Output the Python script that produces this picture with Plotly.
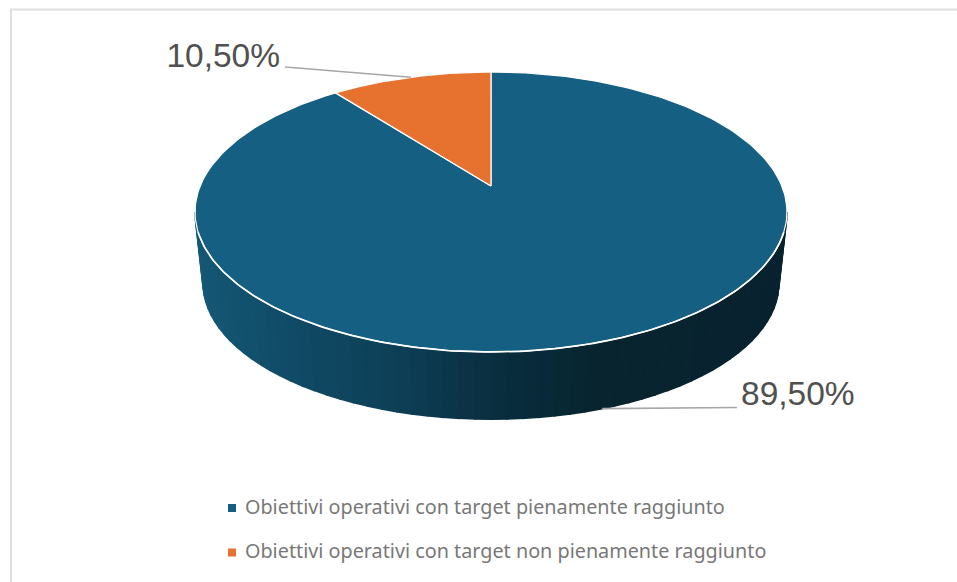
import numpy as np
import plotly.graph_objects as go

# --- data ---
categories = [
    "Obiettivi operativi con target pienamente raggiunto",
    "Obiettivi operativi con target non pienamente raggiunto",
]
values = [89.5, 10.5]
labels = ["89,50%", "10,50%"]
colors = ["#156082", "#E7722F"]

# --- 3D pie projection (canvas pixels) ---
W, H = 957, 582
CX, R = 491.0, 290.8
Y_APEX, Y_MID = 186.0, 212.0
A, C = -100.6, 0.1857
DEPTH_SCALE, Y_MID_BOTTOM = 0.973, 283.0


def top(theta):
    """Clockwise angle from 12 o'clock -> point on the top face rim (r=1) ."""
    x, u = np.sin(theta), np.cos(theta)
    d = 1 + C * u
    return CX + R * x / d, (A * u + Y_APEX) / d


def bottom(theta):
    x, y = top(theta)
    return CX + DEPTH_SCALE * (x - CX), Y_MID_BOTTOM + DEPTH_SCALE * (y - Y_MID)


def hex2rgb(h):
    return np.array([int(h[i:i + 2], 16) for i in (1, 3, 5)], dtype=float)


side_stops_x = [200, 300, 400, 490, 600, 790]
side_stops_c = ["#155876", "#104a65", "#0e3f56", "#0a2f40", "#08252f", "#09232f"]
stop_rgb = np.array([hex2rgb(c) for c in side_stops_c])


def side_color(x):
    rgb = [np.interp(x, side_stops_x, stop_rgb[:, i]) for i in range(3)]
    return "rgb(%d,%d,%d)" % tuple(rgb)


fig = go.Figure()

# side wall: vertical gradient bands between the top and bottom rims
t_left = np.pi - np.arcsin(np.sqrt(1 - C * C))
t_right = 2 * np.pi - t_left
edges = np.linspace(t_left, t_right, 61)
for t0, t1 in zip(edges[:-1], edges[1:]):
    ts = np.linspace(t0, t1, 6)
    xt, yt = top(ts)
    xb, yb = bottom(ts)
    col = side_color((xt.mean() + xb.mean()) / 2)
    fig.add_trace(go.Scatter(
        x=np.r_[xt, xb[::-1], xt[0]], y=np.r_[yt, yb[::-1], yt[0]],
        mode="lines", fill="toself", fillcolor=col,
        line=dict(color=col, width=1.6), hoverinfo="skip", showlegend=False))

# top face slices, built from the values
fractions = np.array(values) / sum(values)
starts = np.r_[0, np.cumsum(fractions)[:-1]] * 2 * np.pi
ends = np.cumsum(fractions) * 2 * np.pi
for name, col, a0, a1 in zip(categories, colors, starts, ends):
    ts = np.linspace(a0, a1, 240)
    x, y = top(ts)
    fig.add_trace(go.Scatter(
        x=np.r_[CX, x, CX], y=np.r_[Y_APEX, y, Y_APEX],
        mode="lines", fill="toself", fillcolor=col,
        line=dict(color="white", width=1.2), name=name, showlegend=False))

# brighter rim where the top face meets the side wall
rim_t = np.linspace(t_left + 0.14, t_right - 0.14, 200)
rx, ry = top(rim_t)
fig.add_trace(go.Scatter(x=rx, y=ry, mode="lines",
                         line=dict(color="white", width=1.7),
                         hoverinfo="skip", showlegend=False))

# leader lines and data labels
GREY = "#A6A6A6"
mid = (starts + ends) / 2
ax0, ay0 = bottom(mid[0])
ax1, ay1 = top(mid[1])
label_anchor = [(737.0, 407.5), (285.0, 67.0)]
anchors = [(ax0, ay0), (ax1, ay1)]
for (px, py), (qx, qy) in zip(anchors, label_anchor):
    fig.add_trace(go.Scatter(x=[px, qx], y=[py, qy], mode="lines",
                             line=dict(color=GREY, width=1.7),
                             hoverinfo="skip", showlegend=False))
fig.add_trace(go.Scatter(
    x=[741, 280], y=[396.5, 58.5], mode="text", text=labels,
    textposition=["middle right", "middle left"],
    textfont=dict(family="Liberation Sans", size=33.5, color="#505050"),
    hoverinfo="skip", showlegend=False))

# legend keys and texts
key_y = [508, 552.5]
fig.add_trace(go.Scatter(
    x=[232, 232], y=key_y, mode="markers",
    marker=dict(symbol="square", size=8, color=colors),
    hoverinfo="skip", showlegend=False))
fig.add_trace(go.Scatter(
    x=[245, 245], y=[y + 1 for y in key_y], mode="text", text=categories,
    textposition="middle right",
    textfont=dict(family="Noto Sans", size=19.8, color="#787878"),
    hoverinfo="skip", showlegend=False))

fig.update_layout(
    width=W, height=H, margin=dict(l=0, r=0, t=0, b=0),
    paper_bgcolor="white", plot_bgcolor="white", showlegend=False,
    xaxis=dict(range=[0, W], visible=False, fixedrange=True),
    yaxis=dict(range=[H, 0], visible=False, fixedrange=True),
    shapes=[dict(type="path", path=f"M {W},9.5 L 11,9.5 L 11,{H}",
                 line=dict(color="#DEDEDE", width=2), layer="below")],
)

fig.write_html("out.html", config={"displayModeBar": False},
               post_script="document.body.style.margin='0';document.body.style.overflow='hidden';")
